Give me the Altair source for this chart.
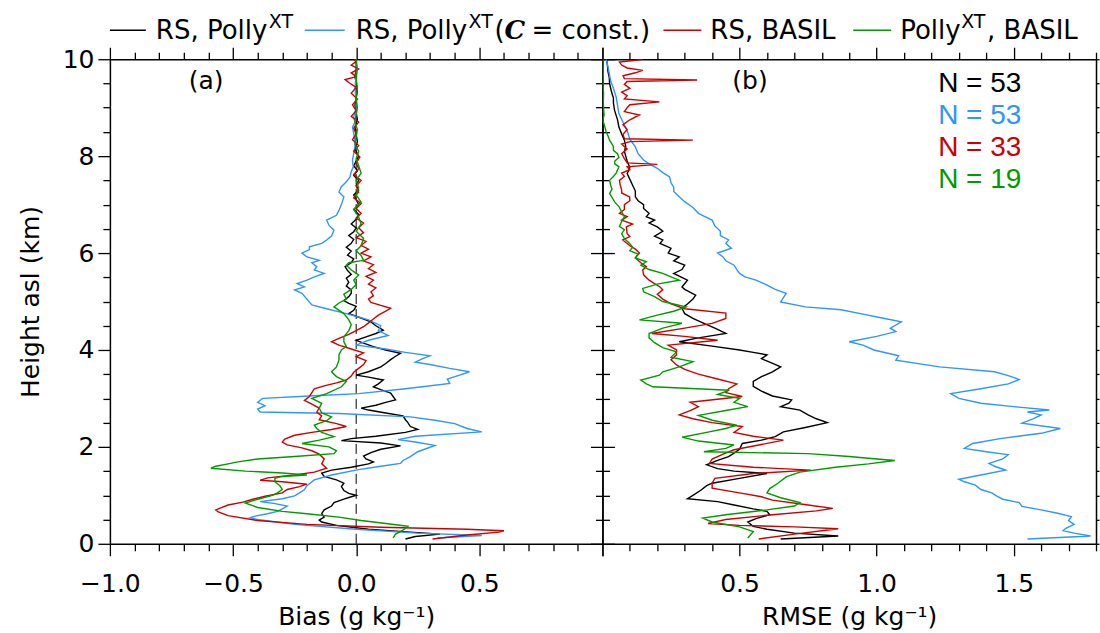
import altair as alt
import pandas as pd

SANS = "DejaVu Sans"
NUM_FONT = "Liberation Sans"
BLACK, BLUE, RED, GREEN = "#000000", "#2F95FF", "#CC0000", "#009A00"

# ---------------------------------------------------------------------------
# Panel (a): bias profiles, (height km, bias g/kg)
# ---------------------------------------------------------------------------
a_black = [(0.10, 0.20), (0.15, 0.24), (0.20, 0.34), (0.24, 0.22), (0.30, 0.05), (0.38, -0.08), (0.45, -0.14),
           (0.49, -0.15), (0.55, -0.13), (0.62, -0.14), (0.70, -0.13), (0.78, -0.10), (0.85, -0.09), (0.92, -0.05),
           (0.97, -0.02), (1.00, 0.00), (1.04, -0.03), (1.10, -0.05), (1.18, -0.06), (1.25, -0.05), (1.32, -0.08),
           (1.39, -0.13), (1.46, -0.14), (1.52, -0.10), (1.58, -0.02), (1.65, 0.05), (1.69, 0.07), (1.75, 0.04),
           (1.81, 0.03), (1.88, 0.06), (1.95, 0.10), (2.02, 0.18), (2.08, 0.10), (2.13, -0.06), (2.17, -0.02),
           (2.22, 0.08), (2.30, 0.20), (2.36, 0.25), (2.42, 0.22), (2.50, 0.21), (2.56, 0.20), (2.64, 0.19),
           (2.70, 0.12), (2.76, 0.05), (2.80, 0.02), (2.86, 0.08), (2.92, 0.12), (2.97, 0.16), (3.04, 0.15),
           (3.11, 0.14), (3.18, 0.10), (3.24, 0.07), (3.30, 0.09), (3.38, 0.11), (3.44, 0.05), (3.48, 0.00),
           (3.55, 0.05), (3.65, 0.10), (3.72, 0.12), (3.80, 0.14), (3.87, 0.16), (3.93, 0.18), (4.00, 0.12),
           (4.07, 0.07), (4.14, 0.03), (4.20, 0.00), (4.27, 0.04), (4.34, 0.08), (4.41, 0.11), (4.50, 0.08),
           (4.58, 0.06), (4.66, 0.02), (4.75, -0.03), (4.82, -0.01), (4.90, 0.00), (4.96, -0.03), (5.02, -0.05),
           (5.10, -0.03), (5.17, -0.02), (5.24, -0.02), (5.32, -0.04), (5.40, -0.03), (5.48, -0.04), (5.56, -0.02),
           (5.64, -0.035), (5.72, -0.045), (5.80, -0.02), (5.88, -0.01), (5.96, -0.035), (6.04, -0.02),
           (6.12, -0.04), (6.20, -0.02), (6.28, -0.01), (6.36, -0.03), (6.44, -0.01), (6.52, 0.00), (6.60, -0.02),
           (6.70, 0.00), (6.80, 0.01), (6.90, -0.01), (7.00, 0.01), (7.10, 0.00), (7.20, -0.01), (7.30, 0.01),
           (7.40, 0.00), (7.50, 0.01), (7.60, -0.01), (7.70, 0.005), (7.80, -0.01), (7.90, 0.0), (8.00, 0.01),
           (8.15, -0.005), (8.30, 0.005), (8.45, 0.0), (8.60, -0.005), (8.75, 0.005), (8.90, 0.0), (9.05, -0.005),
           (9.20, 0.0), (9.35, 0.005), (9.50, 0.0), (9.65, -0.005), (9.80, 0.0), (10.0, 0.0)]

a_blue = [(0.12, 0.33), (0.17, 0.51), (0.22, 0.25), (0.30, 0.0), (0.40, -0.25), (0.50, -0.40), (0.54, -0.43),
          (0.57, -0.41), (0.62, -0.36), (0.67, -0.32), (0.72, -0.30), (0.78, -0.28), (0.83, -0.33), (0.87, -0.39),
          (0.93, -0.30), (0.99, -0.25), (1.05, -0.23), (1.12, -0.21), (1.20, -0.20), (1.32, -0.17), (1.42, -0.10),
          (1.53, 0.01), (1.60, 0.10), (1.66, 0.18), (1.72, 0.19), (1.80, 0.22), (1.90, 0.25), (2.03, 0.32),
          (2.10, 0.24), (2.15, 0.17), (2.22, 0.24), (2.31, 0.51), (2.38, 0.45), (2.48, 0.40), (2.55, 0.32),
          (2.62, 0.22), (2.69, -0.07), (2.72, -0.39), (2.78, -0.40), (2.85, -0.37), (2.92, -0.40), (3.00, -0.38),
          (3.06, -0.15), (3.10, 0.01), (3.20, 0.20), (3.31, 0.38), (3.40, 0.37), (3.48, 0.42), (3.55, 0.46),
          (3.62, 0.38), (3.70, 0.30), (3.75, 0.24), (3.82, 0.27), (3.88, 0.30), (3.95, 0.20), (4.02, 0.12),
          (4.10, 0.0), (4.20, 0.05), (4.30, 0.13), (4.40, 0.09), (4.50, 0.10), (4.62, 0.05), (4.75, -0.04),
          (4.85, -0.12), (4.93, -0.18), (5.05, -0.20), (5.17, -0.22), (5.24, -0.25), (5.30, -0.21), (5.37, -0.24),
          (5.44, -0.20), (5.51, -0.17), (5.58, -0.13), (5.65, -0.17), (5.72, -0.16), (5.80, -0.18), (5.85, -0.15),
          (5.92, -0.20), (6.00, -0.22), (6.07, -0.19), (6.13, -0.19), (6.20, -0.14), (6.27, -0.12), (6.35, -0.10),
          (6.47, -0.09), (6.57, -0.11), (6.68, -0.12), (6.78, -0.08), (6.88, -0.07), (7.00, -0.06), (7.16, -0.05),
          (7.26, -0.07), (7.37, -0.06), (7.47, -0.04), (7.57, -0.025), (7.68, -0.02), (7.78, -0.012),
          (7.92, -0.015), (8.05, -0.01), (8.20, -0.005), (8.33, -0.005), (8.47, -0.01), (8.60, -0.015),
          (8.70, -0.005), (8.81, -0.01), (9.00, 0.0), (9.15, 0.0), (9.40, -0.005), (9.70, 0.0), (10.0, 0.0)]

a_red = [(0.10, 0.31), (0.18, 0.45), (0.24, 0.58), (0.27, 0.60), (0.30, 0.45), (0.34, 0.10), (0.40, -0.20),
         (0.48, -0.40), (0.58, -0.52), (0.66, -0.56), (0.70, -0.57), (0.74, -0.55), (0.80, -0.52), (0.86, -0.46),
         (0.92, -0.42), (0.98, -0.37), (1.05, -0.30), (1.12, -0.28), (1.18, -0.23), (1.23, -0.20), (1.28, -0.30),
         (1.31, -0.39), (1.36, -0.36), (1.42, -0.25), (1.48, -0.17), (1.56, -0.12), (1.65, -0.14), (1.75, -0.13),
         (1.85, -0.15), (1.92, -0.18), (1.98, -0.22), (2.04, -0.28), (2.10, -0.30), (2.16, -0.29), (2.24, -0.25),
         (2.30, -0.18), (2.36, -0.10), (2.42, -0.04), (2.48, -0.08), (2.56, -0.15), (2.64, -0.14), (2.72, -0.16),
         (2.80, -0.15), (2.88, -0.18), (2.96, -0.21), (3.04, -0.19), (3.12, -0.18), (3.20, -0.17), (3.26, -0.13),
         (3.32, -0.08), (3.38, -0.04), (3.46, -0.02), (3.54, -0.01), (3.62, 0.01), (3.70, 0.03), (3.78, 0.04),
         (3.86, 0.0), (3.94, 0.03), (4.02, -0.02), (4.10, -0.07), (4.17, -0.10), (4.24, -0.07), (4.32, -0.03),
         (4.40, 0.0), (4.48, 0.03), (4.56, 0.05), (4.64, 0.07), (4.72, 0.09), (4.80, 0.12), (4.86, 0.14),
         (4.92, 0.10), (4.98, 0.06), (5.05, 0.05), (5.12, 0.07), (5.20, 0.06), (5.28, 0.08), (5.36, 0.05),
         (5.44, 0.07), (5.52, 0.04), (5.60, 0.08), (5.68, 0.05), (5.76, 0.07), (5.84, 0.03), (5.92, 0.06),
         (6.00, 0.02), (6.08, 0.05), (6.16, 0.02), (6.24, 0.04), (6.32, 0.0), (6.42, 0.03), (6.52, 0.01),
         (6.62, 0.03), (6.72, 0.0), (6.82, 0.02), (6.92, 0.0), (7.02, 0.02), (7.14, -0.01), (7.26, 0.01),
         (7.38, 0.0), (7.50, 0.02), (7.62, -0.01), (7.74, 0.01), (7.86, 0.0), (7.98, 0.015), (8.10, -0.01),
         (8.22, 0.01), (8.34, -0.015), (8.46, 0.0), (8.58, -0.01), (8.70, 0.01), (8.82, -0.02), (8.94, 0.0),
         (9.06, -0.015), (9.18, 0.005), (9.30, -0.02), (9.42, 0.0), (9.52, -0.03), (9.58, -0.045), (9.64, 0.0),
         (9.72, -0.02), (9.80, 0.01), (9.88, -0.02), (9.95, 0.0), (10.0, -0.01)]

a_green = [(0.12, 0.15), (0.20, 0.16), (0.28, 0.19), (0.36, 0.21), (0.42, 0.12), (0.48, 0.02), (0.55, -0.07),
           (0.62, -0.20), (0.67, -0.30), (0.75, -0.40), (0.84, -0.45), (0.92, -0.40), (1.00, -0.34), (1.05, -0.32),
           (1.12, -0.30), (1.20, -0.31), (1.28, -0.33), (1.35, -0.33), (1.39, -0.30), (1.42, -0.20), (1.46, -0.30),
           (1.50, -0.45), (1.56, -0.59), (1.60, -0.57), (1.65, -0.52), (1.69, -0.48), (1.75, -0.40), (1.80, -0.25),
           (1.86, -0.09), (1.92, -0.08), (2.00, -0.11), (2.07, -0.22), (2.14, -0.15), (2.21, -0.09), (2.30, -0.14),
           (2.38, -0.16), (2.45, -0.17), (2.54, -0.12), (2.62, -0.10), (2.70, -0.14), (2.80, -0.15), (2.90, -0.14),
           (3.00, -0.18), (3.10, -0.12), (3.24, -0.06), (3.35, -0.04), (3.45, -0.08), (3.55, -0.10), (3.65, -0.08),
           (3.79, -0.07), (3.90, -0.07), (4.00, -0.06), (4.07, -0.04), (4.17, -0.05), (4.27, -0.05), (4.40, -0.03),
           (4.52, -0.02), (4.62, -0.03), (4.75, -0.05), (4.89, -0.09), (4.97, -0.07), (5.05, -0.04), (5.15, -0.05),
           (5.25, -0.02), (5.35, 0.0), (5.44, -0.01), (5.55, 0.01), (5.65, -0.02), (5.75, -0.04), (5.80, -0.03),
           (5.85, 0.03), (5.95, 0.02), (6.05, 0.0), (6.15, 0.02), (6.30, 0.03), (6.45, 0.0), (6.60, 0.02),
           (6.75, 0.01), (6.90, -0.01), (7.05, 0.02), (7.20, 0.0), (7.35, 0.01), (7.50, 0.0), (7.65, 0.02),
           (7.80, 0.01), (7.95, 0.0), (8.10, 0.01), (8.25, -0.005), (8.40, 0.0), (8.55, 0.005), (8.70, -0.005),
           (8.85, 0.0), (9.00, 0.005), (9.20, 0.0), (9.40, 0.005), (9.60, 0.0), (9.80, 0.005), (10.0, 0.0)]

# ---------------------------------------------------------------------------
# Panel (b): RMSE profiles, (height km, RMSE g/kg)
# ---------------------------------------------------------------------------
b_black = [(0.10, 0.65), (0.16, 0.86), (0.22, 0.70), (0.30, 0.60), (0.36, 0.55), (0.45, 0.53), (0.52, 0.56),
           (0.60, 0.61), (0.67, 0.60), (0.72, 0.55), (0.80, 0.48), (0.87, 0.42), (0.93, 0.31), (1.00, 0.33),
           (1.11, 0.36), (1.20, 0.38), (1.25, 0.40), (1.35, 0.50), (1.45, 0.60), (1.50, 0.48), (1.55, 0.42),
           (1.63, 0.38), (1.72, 0.42), (1.80, 0.46), (1.87, 0.48), (1.95, 0.50), (2.07, 0.51), (2.14, 0.58),
           (2.21, 0.63), (2.31, 0.66), (2.40, 0.74), (2.50, 0.82), (2.58, 0.78), (2.66, 0.75), (2.76, 0.72),
           (2.83, 0.65), (2.90, 0.68), (2.97, 0.69), (3.05, 0.62), (3.15, 0.58), (3.25, 0.55), (3.35, 0.55),
           (3.45, 0.58), (3.55, 0.62), (3.65, 0.65), (3.75, 0.61), (3.82, 0.58), (3.90, 0.60), (3.95, 0.55),
           (4.00, 0.50), (4.08, 0.40), (4.17, 0.28), (4.25, 0.35), (4.34, 0.45), (4.45, 0.41), (4.55, 0.37),
           (4.65, 0.33), (4.75, 0.30), (4.86, 0.29), (4.95, 0.31), (5.05, 0.33), (5.13, 0.34), (5.25, 0.30),
           (5.30, 0.29), (5.44, 0.31), (5.58, 0.26), (5.66, 0.29), (5.75, 0.30), (5.84, 0.26), (5.92, 0.28),
           (6.00, 0.24), (6.10, 0.25), (6.20, 0.21), (6.27, 0.22), (6.35, 0.19), (6.45, 0.22), (6.54, 0.20),
           (6.62, 0.17), (6.68, 0.19), (6.75, 0.16), (6.82, 0.17), (6.92, 0.15), (7.00, 0.15), (7.08, 0.13),
           (7.16, 0.12), (7.28, 0.12), (7.40, 0.11), (7.52, 0.10), (7.64, 0.09), (7.76, 0.10), (7.90, 0.09),
           (8.00, 0.085), (8.10, 0.08), (8.20, 0.085), (8.33, 0.08), (8.46, 0.07), (8.60, 0.06), (8.75, 0.055),
           (8.95, 0.044), (9.10, 0.04), (9.20, 0.04), (9.35, 0.032), (9.50, 0.026), (9.62, 0.025), (9.75, 0.02),
           (9.88, 0.018), (10.0, 0.015)]

b_blue = [(0.10, 1.55), (0.16, 1.78), (0.22, 1.72), (0.27, 1.68), (0.32, 1.69), (0.40, 1.72), (0.48, 1.70),
          (0.56, 1.71), (0.63, 1.66), (0.70, 1.60), (0.77, 1.53), (0.85, 1.52), (0.92, 1.46), (0.98, 1.44),
          (1.05, 1.42), (1.12, 1.38), (1.21, 1.36), (1.28, 1.32), (1.33, 1.30), (1.42, 1.38), (1.52, 1.47),
          (1.60, 1.43), (1.66, 1.41), (1.75, 1.46), (1.84, 1.48), (1.90, 1.40), (1.97, 1.32), (2.07, 1.35),
          (2.17, 1.45), (2.28, 1.60), (2.38, 1.67), (2.49, 1.53), (2.58, 1.57), (2.66, 1.60), (2.72, 1.55),
          (2.76, 1.63), (2.83, 1.50), (2.90, 1.38), (3.00, 1.30), (3.10, 1.27), (3.20, 1.38), (3.30, 1.48),
          (3.39, 1.52), (3.47, 1.48), (3.55, 1.43), (3.65, 1.23), (3.79, 1.07), (3.88, 1.08), (4.00, 0.99),
          (4.10, 0.95), (4.17, 0.90), (4.28, 1.00), (4.38, 1.07), (4.45, 1.05), (4.58, 1.09), (4.66, 1.02),
          (4.74, 0.95), (4.83, 0.87), (4.89, 0.74), (4.99, 0.65), (5.08, 0.66), (5.17, 0.67), (5.25, 0.63),
          (5.34, 0.60), (5.44, 0.56), (5.51, 0.52), (5.58, 0.50), (5.66, 0.49), (5.75, 0.48), (5.84, 0.45),
          (5.92, 0.44), (6.00, 0.42), (6.10, 0.47), (6.20, 0.45), (6.27, 0.46), (6.36, 0.43), (6.45, 0.43),
          (6.56, 0.41), (6.68, 0.40), (6.76, 0.37), (6.82, 0.35), (6.94, 0.33), (7.06, 0.30), (7.16, 0.28),
          (7.27, 0.26), (7.36, 0.26), (7.45, 0.25), (7.57, 0.245), (7.66, 0.22), (7.75, 0.20), (7.84, 0.17),
          (7.92, 0.15), (8.05, 0.13), (8.19, 0.12), (8.35, 0.10), (8.53, 0.09), (8.70, 0.075), (8.88, 0.06),
          (9.05, 0.055), (9.22, 0.05), (9.40, 0.04), (9.55, 0.03), (9.70, 0.025), (9.85, 0.02), (10.0, 0.013)]

b_red = [(0.10, 0.57), (0.20, 0.70), (0.31, 0.86), (0.35, 0.70), (0.38, 0.50), (0.42, 0.385), (0.50, 0.45),
         (0.60, 0.62), (0.68, 0.78), (0.73, 0.84), (0.80, 0.75), (0.90, 0.62), (0.97, 0.58), (1.05, 0.50),
         (1.15, 0.40), (1.25, 0.40), (1.35, 0.41), (1.45, 0.55), (1.52, 0.76), (1.58, 0.55), (1.66, 0.39),
         (1.75, 0.40), (1.85, 0.44), (1.94, 0.48), (2.05, 0.58), (2.14, 0.66), (2.22, 0.55), (2.30, 0.48),
         (2.42, 0.51), (2.50, 0.40), (2.58, 0.33), (2.66, 0.28), (2.75, 0.32), (2.83, 0.35), (2.92, 0.32),
         (3.04, 0.51), (3.12, 0.45), (3.20, 0.46), (3.30, 0.49), (3.40, 0.42), (3.50, 0.35), (3.60, 0.30),
         (3.69, 0.27), (3.80, 0.25), (3.90, 0.27), (4.00, 0.27), (4.10, 0.24), (4.20, 0.42), (4.28, 0.30),
         (4.34, 0.18), (4.45, 0.30), (4.55, 0.40), (4.65, 0.45), (4.76, 0.45), (4.85, 0.30), (4.95, 0.25),
         (5.05, 0.22), (5.15, 0.20), (5.24, 0.22), (5.30, 0.21), (5.44, 0.17), (5.55, 0.15), (5.65, 0.147),
         (5.72, 0.16), (5.80, 0.14), (5.90, 0.12), (6.00, 0.135), (6.08, 0.12), (6.15, 0.10), (6.27, 0.074),
         (6.34, 0.10), (6.40, 0.09), (6.54, 0.087), (6.60, 0.11), (6.68, 0.07), (6.75, 0.09), (6.82, 0.062),
         (6.90, 0.08), (7.00, 0.08), (7.08, 0.10), (7.16, 0.099), (7.24, 0.07), (7.30, 0.07), (7.40, 0.065),
         (7.50, 0.062), (7.58, 0.08), (7.65, 0.07), (7.72, 0.10), (7.78, 0.09), (7.83, 0.20), (7.86, 0.09),
         (7.95, 0.08), (8.05, 0.07), (8.15, 0.09), (8.25, 0.07), (8.30, 0.10), (8.33, 0.33), (8.36, 0.08),
         (8.45, 0.075), (8.55, 0.09), (8.65, 0.075), (8.75, 0.10), (8.85, 0.135), (8.92, 0.08), (9.00, 0.09),
         (9.06, 0.10), (9.12, 0.208), (9.18, 0.08), (9.25, 0.09), (9.32, 0.07), (9.40, 0.10), (9.48, 0.08),
         (9.54, 0.09), (9.57, 0.345), (9.60, 0.08), (9.66, 0.075), (9.72, 0.12), (9.77, 0.147), (9.82, 0.09),
         (9.88, 0.07), (9.94, 0.062), (9.98, 0.12), (10.0, 0.147)]

b_green = [(0.12, 0.53), (0.25, 0.55), (0.35, 0.50), (0.45, 0.40), (0.53, 0.366), (0.60, 0.45), (0.70, 0.60),
           (0.78, 0.70), (0.85, 0.72), (0.95, 0.65), (1.05, 0.60), (1.14, 0.61), (1.25, 0.64), (1.38, 0.67),
           (1.48, 0.72), (1.58, 0.85), (1.65, 0.97), (1.72, 1.066), (1.76, 0.98), (1.80, 0.90), (1.86, 0.75),
           (1.90, 0.37), (1.97, 0.45), (2.04, 0.48), (2.12, 0.35), (2.20, 0.29), (2.30, 0.38), (2.38, 0.45),
           (2.45, 0.49), (2.55, 0.40), (2.65, 0.35), (2.75, 0.45), (2.83, 0.53), (2.92, 0.48), (3.00, 0.50),
           (3.08, 0.42), (3.17, 0.463), (3.24, 0.184), (3.30, 0.16), (3.38, 0.14), (3.48, 0.208), (3.55, 0.22),
           (3.65, 0.28), (3.76, 0.33), (3.85, 0.25), (3.96, 0.27), (4.05, 0.22), (4.15, 0.19), (4.25, 0.17),
           (4.34, 0.17), (4.45, 0.22), (4.55, 0.29), (4.62, 0.135), (4.72, 0.20), (4.80, 0.26), (4.89, 0.305),
           (5.00, 0.22), (5.10, 0.19), (5.20, 0.15), (5.27, 0.147), (5.36, 0.20), (5.44, 0.28), (5.51, 0.25),
           (5.58, 0.22), (5.66, 0.17), (5.75, 0.14), (5.82, 0.16), (5.90, 0.12), (5.98, 0.13), (6.05, 0.10),
           (6.12, 0.11), (6.20, 0.099), (6.30, 0.08), (6.40, 0.07), (6.48, 0.08), (6.55, 0.062), (6.65, 0.07),
           (6.75, 0.08), (6.85, 0.07), (6.96, 0.06), (7.05, 0.045), (7.10, 0.04), (7.23, 0.026), (7.32, 0.035),
           (7.40, 0.03), (7.50, 0.026), (7.58, 0.04), (7.65, 0.05), (7.78, 0.06), (7.84, 0.045), (7.90, 0.045),
           (7.97, 0.06), (8.05, 0.055), (8.12, 0.04), (8.20, 0.04), (8.33, 0.026), (8.42, 0.02), (8.50, 0.0136),
           (8.62, 0.008), (8.74, 0.0012), (8.85, 0.006), (8.90, 0.005), (9.10, 0.003), (9.30, 0.004),
           (9.50, 0.002), (9.70, 0.003), (9.90, 0.002), (10.0, 0.003)]

# zero reference line of the bias panel
zero_line_h = [0, 10]
zero_line_v = [0, 0]

# legend and annotation texts
legend_text = ["RS, Polly", "RS, Polly", "RS, BASIL", "Polly", ", BASIL"]
legend_sup = "XT"
const_parts = ["(", "C", "= const.)"]
sample_sizes = ["N = 53", "N = 53", "N = 33", "N = 19"]
sample_colors = [BLACK, BLUE, RED, GREEN]
panel_tags = ["(a)", "(b)"]

# ---------------------------------------------------------------------------
H_SCALE = alt.Scale(domain=[0, 10], nice=False, zero=False)
BIAS_SCALE = alt.Scale(domain=[-1, 1], nice=False, zero=False)
RMSE_SCALE = alt.Scale(domain=[0, 1.8], nice=False, zero=False)

H_TICKS = [i / 2 for i in range(21)]
BIAS_TICKS = [round(-1 + i / 10, 1) for i in range(21)]
RMSE_TICKS = [round(i / 10, 1) for i in range(19)]

H_MAJOR = "datum.value % 2 == 0"
X_MAJOR = "abs(round(datum.value * 10)) % 5 == 0"

AXIS_STYLE = dict(grid=False, domainColor="black", domainWidth=1.5, tickColor="black", tickWidth=1.3,
                  labelFont=SANS, labelFontSize=25, labelColor="black", labelOverlap=False, labelFlush=False,
                  titleFont=SANS, titleFontSize=25, titleFontWeight="normal", titleColor="black")


def make_axis(orient, values, major, big, small, label_expr="", title="", **extra):
    opts = dict(AXIS_STYLE, orient=orient, values=values,
                tickSize={"condition": {"test": major, "value": big}, "value": small}, **extra)
    if label_expr:
        opts["labelExpr"] = label_expr
    else:
        opts["labels"] = False
    opts["title"] = title if title else None
    return alt.Axis(**opts)


def frame(pairs):
    return pd.DataFrame({"h": [p[0] for p in pairs], "v": [p[1] for p in pairs],
                         "i": list(range(len(pairs)))})


def profile_line(pairs, color, xscale, x_axis=None, y_axis=None):
    return alt.Chart(frame(pairs)).mark_line(color=color, strokeWidth=1.4, clip=True).encode(
        x=alt.X("v:Q", scale=xscale, axis=x_axis),
        y=alt.Y("h:Q", scale=H_SCALE, axis=y_axis),
        order="i:Q",
    )


def text_piece(txt, x, y, size=26, font=SANS, color="black", style="normal", weight="normal"):
    return alt.Chart(pd.DataFrame({"t": [txt]})).mark_text(
        align="left", baseline="alphabetic", font=font, fontSize=size, fontStyle=style,
        fontWeight=weight, color=color,
    ).encode(x=alt.value(x), y=alt.value(y), text="t:N")


def dash(x0, x1, y, color):
    return alt.Chart(pd.DataFrame({"k": [0]})).mark_rule(color=color, strokeWidth=1.5).encode(
        x=alt.value(x0), x2=alt.value(x1), y=alt.value(y))


# axes -----------------------------------------------------------------------
bias_bottom = make_axis("bottom", BIAS_TICKS, X_MAJOR, 12, 7,
                        label_expr=f"{X_MAJOR} && datum.value < 0.95 ? format(datum.value, '.1f') : ''",
                        title="Bias (g kg⁻¹)", labelPadding=16, titlePadding=8)
bias_top = make_axis("top", BIAS_TICKS, X_MAJOR, 12, 7)
h_left = make_axis("left", H_TICKS, H_MAJOR, 12, 7,
                   label_expr=f"{H_MAJOR} ? format(datum.value, 'd') : ''",
                   title="Height asl (km)", labelPadding=4, titlePadding=19)
h_right_a = make_axis("right", H_TICKS, H_MAJOR, 12, 7)

rmse_bottom = make_axis("bottom", RMSE_TICKS, X_MAJOR, 12, 7,
                        label_expr=f"{X_MAJOR} && datum.value > 0.05 ? format(datum.value, '.1f') : ''",
                        title="RMSE (g kg⁻¹)", labelPadding=16, titlePadding=8)
rmse_top = make_axis("top", RMSE_TICKS, X_MAJOR, 12, 7)
h_left_b = make_axis("left", H_TICKS, H_MAJOR, 12, 7)
h_right_b = make_axis("right", H_TICKS, H_MAJOR, 3, 3)

# panel (a) ------------------------------------------------------------------
zero_line = alt.Chart(pd.DataFrame({"h": zero_line_h, "v": zero_line_v})).mark_line(
    color="black", strokeWidth=1, strokeDash=[10, 5]).encode(
    x=alt.X("v:Q", scale=BIAS_SCALE, axis=None), y=alt.Y("h:Q", scale=H_SCALE, axis=None))

LY, TY, SY = -29, -20, -31   # legend line, text baseline, superscript baseline
legend_layers = [
    dash(0, 36, LY, BLACK), text_piece(legend_text[0], 46, TY), text_piece(legend_sup, 159, SY, size=19),
    dash(195, 235, LY, BLUE), text_piece(legend_text[1], 246, TY), text_piece(legend_sup, 359, SY, size=19),
    text_piece(const_parts[0], 385, TY),
    text_piece(const_parts[1], 395, TY, font="DejaVu Serif", style="italic", weight="bold"),
    text_piece(const_parts[2], 422, TY),
    dash(554, 592, LY, RED), text_piece(legend_text[2], 601, TY),
    dash(744, 782, LY, GREEN), text_piece(legend_text[3], 791, TY), text_piece(legend_sup, 852, SY, size=19),
    text_piece(legend_text[4], 878, TY),
]

panel_a = alt.layer(
    zero_line,
    profile_line(a_black, BLACK, BIAS_SCALE, bias_bottom, h_left),
    profile_line(a_blue, BLUE, BIAS_SCALE, bias_top, h_right_a),
    profile_line(a_red, RED, BIAS_SCALE),
    profile_line(a_green, GREEN, BIAS_SCALE),
    text_piece(panel_tags[0], 79, 29.5, size=25),
    *legend_layers,
).resolve_axis(x="independent", y="independent").properties(width=493, height=485)

# panel (b) ------------------------------------------------------------------
n_layers = [text_piece(s, 336, 32.7 + 32 * k, size=28, font=NUM_FONT, color=c)
            for k, (s, c) in enumerate(zip(sample_sizes, sample_colors))]

panel_b = alt.layer(
    profile_line(b_black, BLACK, RMSE_SCALE, rmse_bottom, h_left_b),
    profile_line(b_blue, BLUE, RMSE_SCALE, rmse_top, h_right_b),
    profile_line(b_red, RED, RMSE_SCALE),
    profile_line(b_green, GREEN, RMSE_SCALE),
    text_piece(panel_tags[1], 130, 29.5, size=25),
    *n_layers,
).resolve_axis(x="independent", y="independent").properties(width=494, height=485)

chart = alt.hconcat(panel_a, panel_b, spacing=0, bounds="flush").properties(
    padding={"left": 18, "top": 13, "right": 0, "bottom": 0}
).configure_view(strokeWidth=0)

chart.save("out.html", embed_options={"renderer": "svg", "actions": False})
